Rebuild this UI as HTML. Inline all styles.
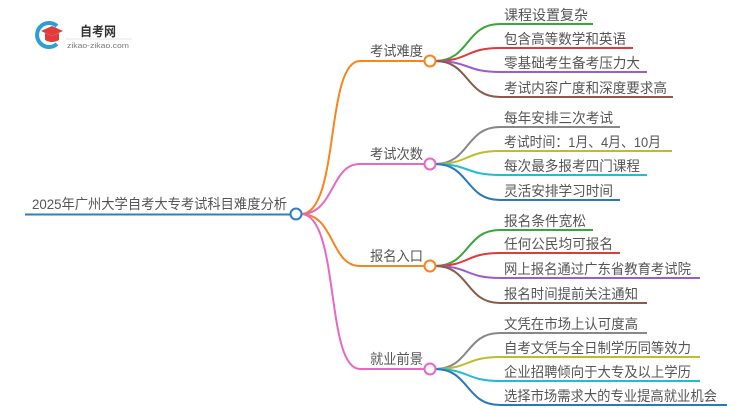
<!DOCTYPE html>
<html><head><meta charset="utf-8"><style>
html,body{margin:0;padding:0;background:#fff;}
svg{display:block;}
text{font-family:"Liberation Sans","Noto Sans CJK SC",sans-serif;fill:#555;}
</style></head><body>
<svg width="750" height="410" viewBox="0 0 750 410" xmlns="http://www.w3.org/2000/svg">
<!-- logo -->
<path d="M57 26 A12 12 0 1 0 57 44" fill="none" stroke="#2a9fd8" stroke-width="4"/>
<path d="M41 31 L52 26 L63 31 L52 36 Z" fill="#e23b3b"/>
<path d="M45 33 L45 40 Q52 44 59 40 L59 33 L52 36 Z" fill="#e23b3b"/>
<text x="80" y="36" font-size="13" font-weight="bold" style="fill:#333" textLength="36" lengthAdjust="spacingAndGlyphs">自考网</text>
<line x1="66" y1="39" x2="132" y2="39" stroke="#ddd" stroke-width="0.8"/>
<text x="67" y="48" font-size="7.5" style="fill:#777" textLength="62" lengthAdjust="spacingAndGlyphs">zikao-zikao.com</text>

<g fill="none" stroke-width="2">
<line x1="25" y1="214.5" x2="291" y2="214.5" stroke="#2f7fc0"/>
<path d="M301 214 C340 214 325 61 360 61 L425 61" stroke="#f7841c"/>
<path d="M301 214 C335 214 330 164 360 164 L425 164" stroke="#e667c4"/>
<path d="M301 214 C335 214 330 266 360 266 L425 266" stroke="#f7841c"/>
<path d="M301 214 C340 214 325 369 360 369 L425 369" stroke="#e667c4"/>

<path d="M435 61 C470 61 465 24 500 24 L593 24" stroke="#3aa63a"/>
<path d="M435 61 C470 61 465 48 500 48 L633 48" stroke="#e03a3a"/>
<path d="M435 61 C470 61 465 72 500 72 L647 72" stroke="#9a5ccf"/>
<path d="M435 61 C470 61 465 97 500 97 L673 97" stroke="#8a5a4a"/>
<path d="M435 164 C470 164 465 127 500 127 L620 127" stroke="#888"/>
<path d="M435 164 C470 164 465 151 500 151 L672 151" stroke="#bcbc2c"/>
<path d="M435 164 C470 164 465 175 500 175 L647 175" stroke="#22bcd0"/>
<path d="M435 164 C470 164 465 200 500 200 L620 200" stroke="#2a78b8"/>
<path d="M435 266 C470 266 465 230 500 230 L593 230" stroke="#3aa63a"/>
<path d="M435 266 C470 266 465 253 500 253 L620 253" stroke="#e03a3a"/>
<path d="M435 266 C470 266 465 278 500 278 L700 278" stroke="#9a5ccf"/>
<path d="M435 266 C470 266 465 303 500 303 L647 303" stroke="#8a5a4a"/>
<path d="M435 369 C470 369 465 333 500 333 L647 333" stroke="#888"/>
<path d="M435 369 C470 369 465 357 500 357 L700 357" stroke="#bcbc2c"/>
<path d="M435 369 C470 369 465 381 500 381 L700 381" stroke="#22bcd0"/>
<path d="M435 369 C470 369 465 405 500 405 L727 405" stroke="#2a78b8"/>
</g>
<g fill="#fff" stroke-width="2">
<circle cx="296" cy="214" r="5.5" stroke="#2f7fc0"/>
<circle cx="430" cy="61" r="5.5" stroke="#f7841c"/>
<circle cx="430" cy="164" r="5.5" stroke="#e667c4"/>
<circle cx="430" cy="266" r="5.5" stroke="#f7841c"/>
<circle cx="430" cy="369" r="5.5" stroke="#e667c4"/>
</g>

<g font-size="14" lengthAdjust="spacingAndGlyphs">
<text x="32" y="209" textLength="255" lengthAdjust="spacingAndGlyphs">2025年广州大学自考大专考试科目难度分析</text>
<text x="370" y="56" textLength="53" lengthAdjust="spacingAndGlyphs">考试难度</text>
<text x="370" y="159" textLength="53" lengthAdjust="spacingAndGlyphs">考试次数</text>
<text x="370" y="261" textLength="53" lengthAdjust="spacingAndGlyphs">报名入口</text>
<text x="370" y="364" textLength="53" lengthAdjust="spacingAndGlyphs">就业前景</text>

<text x="504" y="20" textLength="84" lengthAdjust="spacingAndGlyphs">课程设置复杂</text>
<text x="504" y="44" textLength="122" lengthAdjust="spacingAndGlyphs">包含高等数学和英语</text>
<text x="504" y="68" textLength="136" lengthAdjust="spacingAndGlyphs">零基础考生备考压力大</text>
<text x="504" y="93" textLength="163" lengthAdjust="spacingAndGlyphs">考试内容广度和深度要求高</text>

<text x="504" y="123" textLength="109" lengthAdjust="spacingAndGlyphs">每年安排三次考试</text>
<text x="504" y="147" textLength="157" lengthAdjust="spacingAndGlyphs">考试时间：1月、4月、10月</text>
<text x="504" y="171" textLength="136" lengthAdjust="spacingAndGlyphs">每次最多报考四门课程</text>
<text x="504" y="196" textLength="109" lengthAdjust="spacingAndGlyphs">灵活安排学习时间</text>

<text x="504" y="226" textLength="82" lengthAdjust="spacingAndGlyphs">报名条件宽松</text>
<text x="504" y="249" textLength="109" lengthAdjust="spacingAndGlyphs">任何公民均可报名</text>
<text x="504" y="274" textLength="187" lengthAdjust="spacingAndGlyphs">网上报名通过广东省教育考试院</text>
<text x="504" y="299" textLength="134" lengthAdjust="spacingAndGlyphs">报名时间提前关注通知</text>

<text x="504" y="329" textLength="134" lengthAdjust="spacingAndGlyphs">文凭在市场上认可度高</text>
<text x="504" y="353" textLength="187" lengthAdjust="spacingAndGlyphs">自考文凭与全日制学历同等效力</text>
<text x="504" y="377" textLength="187" lengthAdjust="spacingAndGlyphs">企业招聘倾向于大专及以上学历</text>
<text x="504" y="401" textLength="213" lengthAdjust="spacingAndGlyphs">选择市场需求大的专业提高就业机会</text>
</g>
</svg>
</body></html>
